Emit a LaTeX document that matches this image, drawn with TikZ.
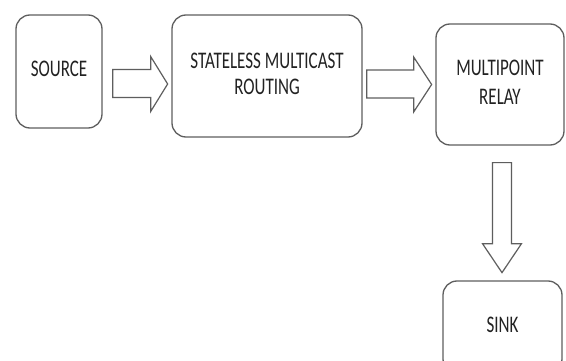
\documentclass[tikz,border=0pt]{standalone}
\usepackage{fontspec}
\setmainfont{Carlito}
\usepackage{graphicx}
\usetikzlibrary{calc}
\definecolor{edge}{HTML}{5E5E5E}
\definecolor{ink}{HTML}{222222}
\tikzset{
  box/.style={draw=edge, line width=1.3pt, rounded corners=14pt, inner sep=0pt, align=center,
              font=\fontsize{17}{19}\selectfont, text=ink},
  blockarrow/.style={draw=edge, line width=1.2pt, fill=white, line join=miter}
}
\newcommand{\tall}[1]{\scalebox{1}[1.4]{\begin{tabular}{@{}c@{}}#1\end{tabular}}}
\begin{document}
\begin{tikzpicture}[x=1pt,y=-1pt]
\useasboundingbox (0,0) rectangle (566,361);
\clip (0,0) rectangle (566,361);
\fill[white] (0,0) rectangle (566,361);
\node[box, minimum width=86pt, minimum height=113pt] (src) at (59,71.5) {\tall{SOURCE}};
\node[box, minimum width=190pt, minimum height=122pt] (smr) at (267,76) {\tall{STATELESS MULTICAST\\ROUTING}};
\node[box, minimum width=128pt, minimum height=121pt] (mpr) at (500,84.5) {\tall{MULTIPOINT\\[2pt]RELAY}};
\node[box, minimum width=119pt, minimum height=92pt] (sink) at (502.5,327) {\tall{SINK}};
% arrow source -> smr
\draw[blockarrow] ($(src.east)+(10,-2)$) coordinate (a1) -- ++(38,0) -- ++(0,-13) -- ++(17,27.5) -- ++(-17,27.5) -- ++(0,-14) -- ++(-38,0) -- cycle;
% arrow smr -> mpr
\draw[blockarrow] ($(smr.east)+(4,-6)$) coordinate (a2) -- ++(47,0) -- ++(0,-13) -- ++(18,27.5) -- ++(-18,27.5) -- ++(0,-14) -- ++(-47,0) -- cycle;
% arrow mpr -> sink
\draw[blockarrow] ($(mpr.south)+(-7.5,17)$) coordinate (a3) -- ++(0,81) -- ++(-10,0) -- ++(19.5,29) -- ++(19.5,-29) -- ++(-10,0) -- ++(0,-81) -- cycle;
\end{tikzpicture}
\end{document}
